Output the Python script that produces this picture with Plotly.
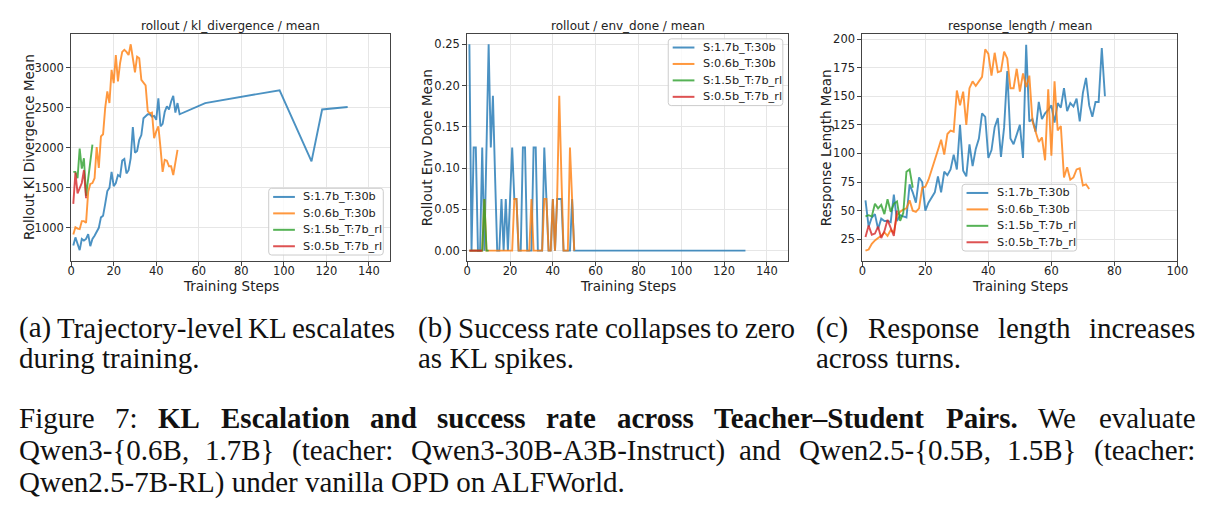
import plotly.graph_objects as go

W, H = 1222, 517

# ---------------- data ----------------
series_names = ["S:1.7b_T:30b", "S:0.6b_T:30b", "S:1.5b_T:7b_rl", "S:0.5b_T:7b_rl"]
colors = ["#1f77b4", "#ff7f0e", "#2ca02c", "#d62728"]

# KL divergence
kl_blue_steps = list(range(1, 52)) + [63, 98, 113, 118, 130]
kl_blue = [780, 880, 800, 720, 860, 840, 860, 920, 770, 860,
           900, 960, 1000, 1130, 1150, 1300, 1460, 1500, 1700, 1520,
           1560, 1660, 1640, 1840, 1860, 1680, 1720, 1870, 2260, 1940,
           1960, 2100, 2160, 2370, 2390, 2420, 2420, 2390, 2400, 2350,
           2620, 2270, 2300, 2450, 2520, 2480, 2580, 2650, 2440, 2560, 2420,
           2560, 2720, 1830, 2480, 2510]
kl_orange_steps = list(range(1, 51))
kl_orange = [917, 1008, 990, 983, 1083, 1083, 1062, 1450, 1549, 1560,
             1620, 2010, 1750, 2143, 2170, 2500, 2705, 2560, 2975, 2810,
             3160, 2830, 3060, 3200, 3225, 3200, 3160, 3295, 3120, 2945,
             3140, 3120, 2850, 2820, 2780, 2460, 2430, 2440, 2120, 2205,
             2270, 2000, 1700, 1850, 1840, 1770, 1770, 1660, 1830, 1975]
kl_green_steps = list(range(1, 11))
kl_green = [1700, 1700, 1620, 1990, 1740, 1870, 1400, 1600, 1820, 2040]
kl_red_steps = list(range(1, 8))
kl_red = [1300, 1690, 1430, 1500, 1560, 1720, 1370]

# env done
env_blue_steps = list(range(1, 52)) + [63, 98, 113, 118, 130]
env_blue = [0.25, 0, 0.125, 0.125, 0, 0, 0.125, 0, 0.125, 0.25,
            0.125, 0.1875, 0.09, 0, 0, 0.0625, 0, 0.0625, 0, 0.0625,
            0.125, 0.0625, 0.0625, 0, 0, 0.125, 0.125, 0, 0, 0,
            0.125, 0.125, 0, 0, 0, 0.125, 0.0625, 0, 0, 0.0625,
            0, 0.0625, 0.0625, 0.0625, 0, 0, 0, 0, 0.0625, 0, 0,
            0, 0, 0, 0, 0]
env_orange_steps = list(range(1, 51))
env_orange = [0, 0, 0, 0, 0, 0, 0, 0.0625, 0, 0,
              0, 0, 0, 0, 0, 0, 0, 0, 0, 0,
              0, 0.0625, 0.0625, 0, 0, 0, 0, 0, 0, 0.0625,
              0, 0, 0, 0, 0, 0.0625, 0.0625, 0, 0, 0.0625,
              0, 0.0625, 0.1875, 0.09, 0, 0, 0, 0.125, 0.0625, 0]
env_green_steps = list(range(1, 11))
env_green = [0, 0, 0, 0, 0, 0, 0, 0.0625, 0, 0]
env_red_steps = list(range(1, 8))
env_red = [0, 0, 0, 0, 0, 0, 0]

# response length
rl_blue_steps = list(range(1, 78))
rl_blue = [59, 36, 44, 47, 34, 43, 41, 41, 40, 64,
           41, 46, 45, 44, 73, 66, 57, 79, 75, 50,
           57, 62, 66, 80, 66, 84, 81, 86, 99, 86,
           125, 85, 80, 108, 89, 104, 113, 135, 132, 96,
           103, 123, 131, 97, 123, 172, 113, 108, 116, 125,
           96, 195, 128, 130, 119, 145, 130, 135, 138, 142,
           127, 144, 140, 157, 137, 144, 141, 148, 128, 153,
           166, 142, 132, 145, 145, 192, 150]
rl_orange_steps = list(range(1, 73))
rl_orange = [15, 16, 21, 24, 26, 28, 31, 28, 33, 31,
             46, 49, 51, 52, 59, 50, 49, 52, 70, 71,
             77, 85, 94, 103, 112, 99, 117, 120, 119, 155,
             142, 154, 125, 157, 163, 159, 163, 167, 191, 187,
             168, 188, 171, 172, 189, 183, 157, 157, 174, 154,
             170, 158, 168, 128, 119, 110, 114, 94, 156, 98,
             163, 120, 124, 79, 88, 77, 79, 86, 87, 72,
             73, 69]
rl_green_steps = list(range(1, 17))
rl_green = [45, 46, 45, 56, 52, 55, 47, 60, 49, 56, 58, 41, 48, 84, 86, 70]
rl_red_steps = list(range(1, 12))
rl_red = [27, 37, 29, 30, 36, 26, 32, 42, 35, 28, 50]

panel_titles = ["rollout / kl_divergence / mean", "rollout / env_done / mean", "response_length / mean"]
y_titles = ["Rollout Kl Divergence Mean", "Rollout Env Done Mean", "Response Length Mean"]
x_title = "Training Steps"

kl_ticks = [1000, 1500, 2000, 2500, 3000]
env_ticks = [0.0, 0.05, 0.10, 0.15, 0.20, 0.25]
rl_ticks = [25, 50, 75, 100, 125, 150, 175, 200]
x_ticks_a = [0, 20, 40, 60, 80, 100, 120, 140]
x_ticks_c = [0, 20, 40, 60, 80, 100]

sub_captions = [
    ["(a) Trajectory-level KL escalates", "during training."],
    ["(b) Success rate collapses to zero", "as KL spikes."],
    ["(c) Response length increases", "across turns."],
]
fig_caption = [
    [("Figure 7:", False), ("KL Escalation and success rate across Teacher–Student Pairs.", True), ("We evaluate", False)],
    [("Qwen3-{0.6B, 1.7B} (teacher: Qwen3-30B-A3B-Instruct) and Qwen2.5-{0.5B, 1.5B} (teacher:", False)],
    [("Qwen2.5-7B-RL) under vanilla OPD on ALFWorld.", False)],
]

# ---------------- helpers ----------------
def fx(p):
    return p / W

def fy(p):
    return 1 - p / H

SANS = "DejaVu Sans"
SERIF = "Liberation Serif"

panels = [
    dict(xd=(68, 391), yd=(32, 260), xr=[0, 150], yr=[585, 3425], xt=x_ticks_a, yt=kl_ticks, yfmt="d", ytx=26,
         leg=(268, 187),
         data=[(kl_blue_steps, kl_blue), (kl_orange_steps, kl_orange), (kl_green_steps, kl_green), (kl_red_steps, kl_red)]),
    dict(xd=(469, 794), yd=(32, 260), xr=[0, 150], yr=[-0.0125, 0.2625], xt=x_ticks_a, yt=env_ticks, yfmt=".2f", ytx=429,
         leg=(672.5, 37),
         data=[(env_blue_steps, env_blue), (env_orange_steps, env_orange), (env_green_steps, env_green), (env_red_steps, env_red)]),
    dict(xd=(869, 1188), yd=(32, 260), xr=[0, 100], yr=[6, 204.5], xt=x_ticks_c, yt=rl_ticks, yfmt="d", ytx=833,
         leg=(970, 183),
         data=[(rl_blue_steps, rl_blue), (rl_orange_steps, rl_orange), (rl_green_steps, rl_green), (rl_red_steps, rl_red)]),
]

LEG_W, LEG_H, LEG_R = 116, 67, 3
ROW0, ROWSTEP = 8.7, 16.5

fig = go.Figure()
layout = dict(
    width=W, height=H,
    margin=dict(l=0, r=0, t=0, b=0),
    paper_bgcolor="white", plot_bgcolor="white",
    font=dict(family=SANS, color="#222222"),
    showlegend=False,
    annotations=[], shapes=[],
)

def rounded_rect_path(x0, y0, x1, y1, r):
    rx, ry = r / W, r / H
    X0, X1 = fx(x0), fx(x1)
    Y0, Y1 = fy(y0), fy(y1)
    return (f"M {X0+rx},{Y0} L {X1-rx},{Y0} Q {X1},{Y0} {X1},{Y0-ry} "
            f"L {X1},{Y1+ry} Q {X1},{Y1} {X1-rx},{Y1} "
            f"L {X0+rx},{Y1} Q {X0},{Y1} {X0},{Y1+ry} "
            f"L {X0},{Y0-ry} Q {X0},{Y0} {X0+rx},{Y0} Z")

for i, p in enumerate(panels):
    sfx = "" if i == 0 else str(i + 1)
    for k, (xs, ys) in enumerate(p["data"]):
        fig.add_trace(go.Scatter(
            x=xs, y=ys, mode="lines", name=series_names[k],
            line=dict(color=colors[k], width=1.9),
            opacity=0.8, xaxis="x" + sfx, yaxis="y" + sfx,
        ))
    axcommon = dict(showline=True, mirror=True, linecolor="#444444", linewidth=1,
                    ticks="outside", ticklen=4, tickcolor="#444444", tickwidth=1,
                    showgrid=True, gridcolor="#e6e6e6", gridwidth=1, zeroline=False,
                    tickfont=dict(family=SANS, size=11.5, color="#222222"))
    layout["xaxis" + sfx] = dict(domain=[fx(p["xd"][0]), fx(p["xd"][1])], anchor="y" + sfx,
                                 range=p["xr"], tickvals=p["xt"], ticklabelstandoff=-5, **axcommon)
    layout["yaxis" + sfx] = dict(domain=[fy(p["yd"][1]), fy(p["yd"][0])], anchor="x" + sfx,
                                 range=p["yr"], tickvals=p["yt"], tickformat=p["yfmt"], **axcommon)
    cx = (p["xd"][0] + p["xd"][1]) / 2
    layout["annotations"].append(dict(text=panel_titles[i], x=fx(cx), y=fy(24), xref="paper", yref="paper",
                                      showarrow=False, xanchor="center", yanchor="middle",
                                      font=dict(family=SANS, size=12, color="#222222")))
    layout["annotations"].append(dict(text=x_title, x=fx(cx), y=fy(285), xref="paper", yref="paper",
                                      showarrow=False, xanchor="center", yanchor="middle",
                                      font=dict(family=SANS, size=13.5, color="#222222")))
    layout["annotations"].append(dict(text=y_titles[i], x=fx(p["ytx"]), y=fy(146), xref="paper", yref="paper",
                                      showarrow=False, xanchor="center", yanchor="middle", textangle=-90,
                                      font=dict(family=SANS, size=13.5, color="#222222")))
    lx, ly = p["leg"]
    layout["shapes"].append(dict(type="path", path=rounded_rect_path(lx, ly, lx + LEG_W, ly + LEG_H, LEG_R),
                                 xref="paper", yref="paper", fillcolor="rgba(255,255,255,0.8)",
                                 line=dict(color="#cccccc", width=1), layer="above"))
    for k, nm in enumerate(series_names):
        ry = ly + ROW0 + ROWSTEP * k
        layout["shapes"].append(dict(type="line", x0=fx(lx + 4.5), x1=fx(lx + 26.5), y0=fy(ry), y1=fy(ry),
                                     xref="paper", yref="paper", layer="above", opacity=0.8,
                                     line=dict(color=colors[k], width=2)))
        layout["annotations"].append(dict(text=nm, x=fx(lx + 33), y=fy(ry), xref="paper", yref="paper",
                                          showarrow=False, xanchor="left", yanchor="middle",
                                          font=dict(family=SANS, size=11.3, color="#222222")))

# ---------------- captions (justified, Times-metric serif) ----------------
TNR = {" ": 250, "!": 333, "(": 333, ")": 333, ",": 250, "-": 333, ".": 250, "/": 278, ":": 278, ";": 278,
       "{": 480, "}": 480, "–": 500,
       "A": 722, "B": 667, "C": 667, "D": 722, "E": 611, "F": 556, "G": 722, "H": 722, "I": 333, "J": 389,
       "K": 722, "L": 611, "M": 889, "N": 722, "O": 722, "P": 556, "Q": 722, "R": 667, "S": 556, "T": 611,
       "U": 722, "V": 722, "W": 944, "X": 722, "Y": 722, "Z": 611,
       "a": 444, "b": 500, "c": 444, "d": 500, "e": 444, "f": 333, "g": 500, "h": 500, "i": 278, "j": 278,
       "k": 500, "l": 278, "m": 778, "n": 500, "o": 500, "p": 500, "q": 500, "r": 333, "s": 389, "t": 278,
       "u": 500, "v": 500, "w": 722, "x": 500, "y": 500, "z": 444}
TNRB = dict(TNR)
TNRB.update({"C": 722, "E": 667, "F": 611, "G": 778, "H": 778, "I": 389, "K": 778, "L": 667, "M": 944,
             "O": 778, "P": 611, "R": 722, "T": 667, "W": 1000,
             "a": 500, "b": 556, "d": 556, "h": 556, "k": 556, "m": 833, "n": 556, "p": 556, "r": 444,
             "t": 333, "u": 556})

CAP = 29

def word_w(w, bold):
    tab = TNRB if bold else TNR
    return sum(tab.get(c, 500) for c in w) / 1000.0 * CAP

def place(word, x, y, bold):
    layout["annotations"].append(dict(text=("<b>%s</b>" % word) if bold else word, x=fx(x), y=fy(y),
                                      xref="paper", yref="paper", showarrow=False,
                                      xanchor="left", yanchor="middle", borderpad=0, borderwidth=0,
                                      font=dict(family=SERIF, size=CAP, color="#111111")))

def justify(segments, x0, x1, y):
    words = []
    for text, bold in segments:
        for w in text.split(" "):
            words.append((w, bold))
    widths = [word_w(w, b) for w, b in words]
    gap = (x1 - x0 - sum(widths)) / (len(words) - 1)
    x = x0
    for (w, b), wd in zip(words, widths):
        place(w, x, y, b)
        x += wd + gap

def left(segments, x0, y):
    text = " ".join(("<b>%s</b>" % t) if b else t for t, b in segments)
    layout["annotations"].append(dict(text=text, x=fx(x0), y=fy(y), xref="paper", yref="paper",
                                      showarrow=False, xanchor="left", yanchor="middle",
                                      borderpad=0, borderwidth=0,
                                      font=dict(family=SERIF, size=CAP, color="#111111")))

sub_cols = [(15, 395), (419, 800), (822, 1205)]
for (c0, c1), lines in zip(sub_cols, sub_captions):
    justify([(lines[0], False)], c0, c1, 327)
    left([(lines[1], False)], c0, 357)

justify(fig_caption[0], 15, 1205, 418)
justify(fig_caption[1], 15, 1205, 450)
left(fig_caption[2], 15, 482)

fig.update_layout(**layout)
fig.write_html("out.html")
